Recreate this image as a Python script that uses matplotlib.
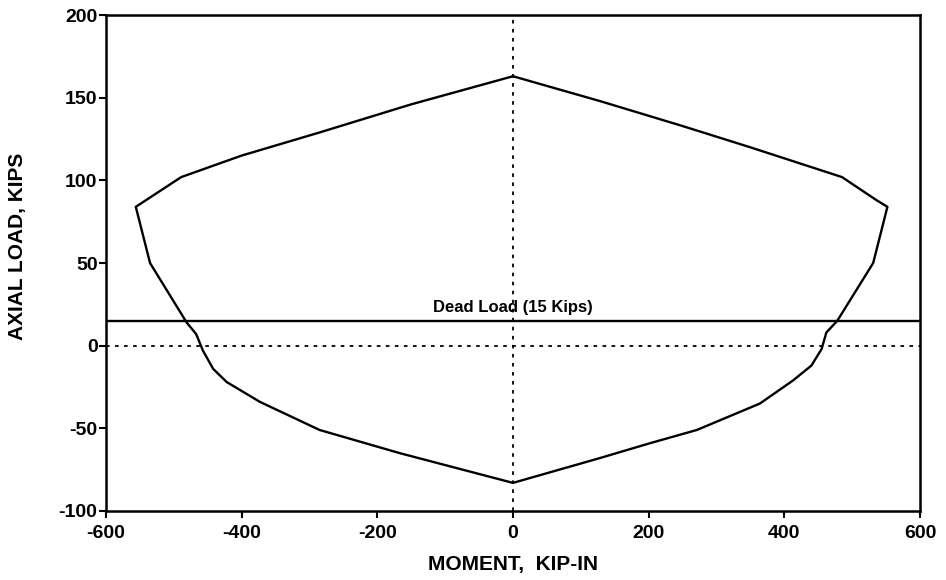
import matplotlib.pyplot as plt

plt.rcParams['font.family'] = ['Liberation Sans', 'DejaVu Sans']
plt.rcParams['axes.unicode_minus'] = False

# interaction diagram, traced clockwise from the top
moment = [0, 128, 249, 350, 485, 536, 552, 531, 478, 462, 455, 440, 413, 364, 271, 202, 128, 0,
          -167, -285, -373, -422, -442, -457, -467, -481, -535, -556, -489, -400, -285, -150, 0]
axial = [163, 148, 133, 120, 102, 88, 84, 50, 15, 8, -2, -12, -21, -35, -51, -59, -68, -83,
         -65, -51, -34, -22, -14, -3, 7, 14, 50, 84, 102, 115, 129, 146, 163]

dead_load = 15
xlim = [-600, 600]
ylim = [-100, 200]
xticks = [-600, -400, -200, 0, 200, 400, 600]
yticks = [-100, -50, 0, 50, 100, 150, 200]

fig = plt.figure(figsize=(9.46, 5.80), dpi=100)
ax = fig.add_axes([0.112, 0.119, 0.8605, 0.855])

ax.plot(moment, axial, color='black', lw=1.7)
ax.axhline(dead_load, color='black', lw=1.7)
ax.axhline(0, color='black', lw=1.3, ls=(0, (2, 3)))
ax.axvline(0, color='black', lw=1.3, ls=(0, (2, 3)))
ax.text(0, dead_load + 3.5, "Dead Load (15 Kips)", ha='center', va='bottom',
        fontsize=12, fontweight='bold')

ax.set_xlim(xlim)
ax.set_ylim(ylim)
ax.set_xticks(xticks)
ax.set_yticks(yticks)
ax.tick_params(direction='out', length=5, width=1.5, labelsize=14)
ax.tick_params(axis='x', pad=5)
ax.tick_params(axis='y', pad=1)
for lab in ax.get_xticklabels() + ax.get_yticklabels():
    lab.set_fontweight('bold')
for s in ax.spines.values():
    s.set_linewidth(1.8)

ax.set_xlabel("MOMENT,  KIP-IN", fontsize=15, fontweight='bold')
ax.set_ylabel("AXIAL LOAD, KIPS", fontsize=15, fontweight='bold')
ax.xaxis.set_label_coords(0.5, -0.089)
ax.yaxis.set_label_coords(-0.097, 0.534)

fig.savefig("out.png", dpi=100)
